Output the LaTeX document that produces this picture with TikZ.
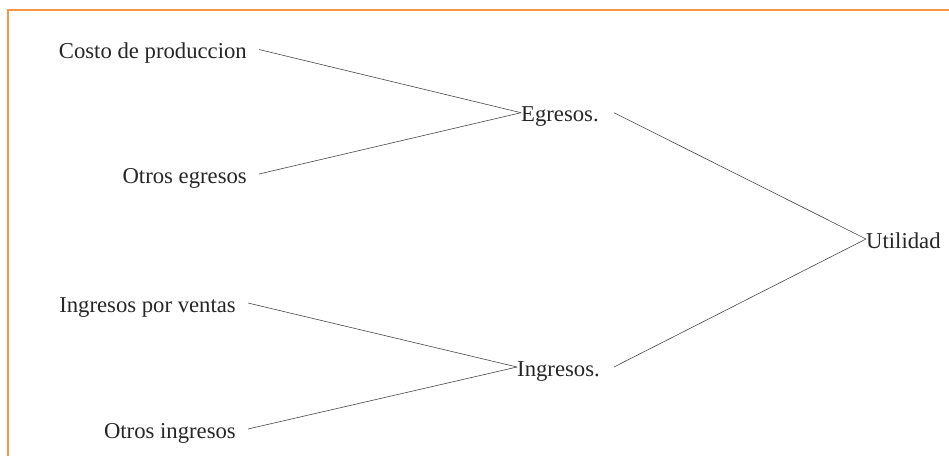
\documentclass[tikz,border=0pt]{standalone}
\usepackage{fontspec}
\setmainfont{Liberation Serif}
\definecolor{frameorange}{HTML}{F79646}
\definecolor{inkgray}{HTML}{262626}
\begin{document}
\begin{tikzpicture}[x=1pt,y=-1pt,
  lbl/.style={inner sep=0pt,text=inkgray,font=\fontsize{22.7}{26}\selectfont,
              text height=18pt,text depth=0pt},
  link/.style={draw=inkgray!85,line width=0.6pt}]
  \useasboundingbox (0,0) rectangle (949,456);
  % frame along the top and left edges
  \draw[frameorange,line width=2pt] (7.5,456) -- (7.5,9.5) -- (949,9.5);

  % cost side
  \node[lbl,anchor=east] (costo)  at (247,49.5) {Costo de produccion};
  \node[lbl,anchor=east] (otrosE) at (247,174)  {Otros egresos};
  \node[lbl,anchor=west] (egresos) at (521,112.7) {Egresos.};

  % income side
  \node[lbl,anchor=east] (ventas) at (236,303) {Ingresos por ventas};
  \node[lbl,anchor=east] (otrosI) at (236,429) {Otros ingresos};
  \node[lbl,anchor=west] (ingresos) at (517,367) {Ingresos.};

  % result
  \node[lbl,anchor=west] (utilidad) at (866,239) {Utilidad};

  \draw[link] ([xshift=12pt]costo.east)  -- (egresos.west);
  \draw[link] ([xshift=12pt]otrosE.east) -- (egresos.west);
  \draw[link] ([xshift=12pt]ventas.east) -- (ingresos.west);
  \draw[link] ([xshift=12pt]otrosI.east) -- (ingresos.west);
  \draw[link] ([xshift=15pt]egresos.east)  -- (utilidad.west);
  \draw[link] ([xshift=14pt]ingresos.east) -- (utilidad.west);
\end{tikzpicture}
\end{document}
